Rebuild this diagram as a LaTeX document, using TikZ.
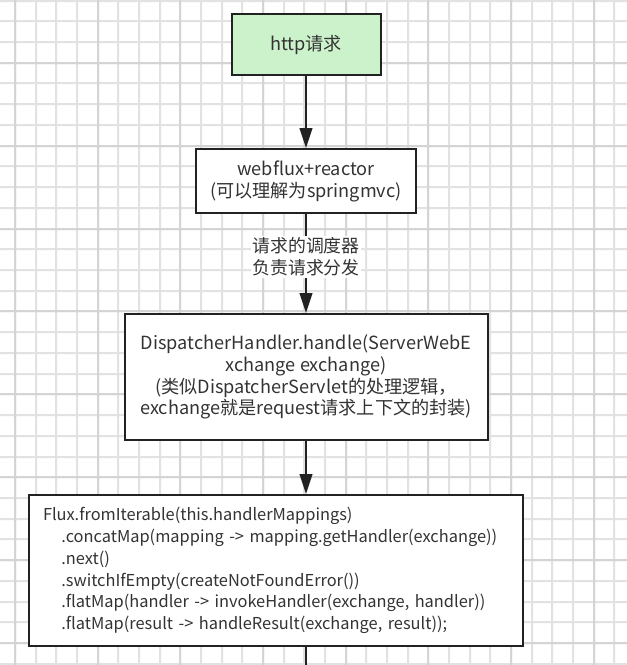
\documentclass[tikz,border=0pt]{standalone}
\usepackage{fontspec}
\setmainfont{Noto Sans CJK SC}
\usetikzlibrary{arrows.meta}
\definecolor{boxgreen}{RGB}{204,242,204}
\definecolor{lineclr}{RGB}{34,34,34}
\definecolor{txtclr}{RGB}{51,51,51}
\definecolor{gridminor}{RGB}{226,226,226}
\definecolor{gridmajor}{RGB}{212,212,212}
\def\u{0.75pt}
\newcommand{\ind}{\hspace*{13.8pt}}
\tikzset{
  box/.style={draw=lineclr, line width=1.5pt, fill=white, inner sep=0pt,
    text=txtclr, align=center, font=\fontsize{13.6}{16.4}\selectfont},
  codebox/.style={box, align=left, inner xsep=10.5pt, font=\fontsize{12.3}{16.3}\selectfont},
  conn/.style={draw=lineclr, line width=1.7pt, -{Triangle[length=15pt,width=9.5pt]}},
  plainconn/.style={draw=lineclr, line width=1.7pt},
  lbl/.style={fill=white, text=txtclr, align=center, inner sep=1pt, font=\fontsize{13.4}{17}\selectfont},
}
\begin{document}
\begin{tikzpicture}[x=0.75pt,y=-0.75pt]
\useasboundingbox (0,0) rectangle (627,665);
\fill[white] (0,0) rectangle (627,665);
% grid: minor lines as thin filled strips
\fill[gridminor]
  \foreach \i in {1,...,31} { ({round(-5.67+20.67*\i)-1},0) rectangle ({round(-5.67+20.67*\i)+1},665) }
  \foreach \i in {0,...,32} { (0,{round(0.5+20.73*\i)-1}) rectangle (627,{round(0.5+20.73*\i)+1}) };
\fill[gridmajor]
  \foreach \i in {0,...,7} { ({round(15+82.67*\i)-1},0) rectangle ({round(15+82.67*\i)+1},665) }
  \foreach \i in {0,...,7} { (0,{round(62.7+82.92*\i)-1}) rectangle (627,{round(62.7+82.92*\i)+1}) };
% boxes
\node[box, fill=boxgreen, minimum width=149*\u, minimum height=61*\u] (b1) at (306,44.5) {http请求};
\node[box, minimum width=220*\u, minimum height=64*\u] (b2) at (306,181) {webflux+reactor\\(可以理解为springmvc)};
\node[box, minimum width=363*\u, minimum height=126*\u] (b3) at (306,377) {DispatcherHandler.handle(ServerWebE\\xchange exchange)\\(类似DispatcherServlet的处理逻辑，\\exchange就是request请求上下文的封装)};
\node[codebox, text width=466*\u, minimum height=151*\u] (b4) at (276,570.5) {Flux.fromIterable(this.handlerMappings)\\
\ind.concatMap(mapping -> mapping.getHandler(exchange))\\
\ind.next()\\
\ind.switchIfEmpty(createNotFoundError())\\
\ind.flatMap(handler -> invokeHandler(exchange, handler))\\
\ind.flatMap(result -> handleResult(exchange, result));};
\coordinate (end) at (306,665);
% connectors
\draw[conn] (b1.south) -- (b2.north);
\draw[conn] (b2.south) -- node[lbl, pos=0.43] (l1) {请求的调度器\\负责请求分发} (b3.north);
\draw[conn] (b3.south) -- (b3.south |- b4.north);
\draw[plainconn] (b4.south -| end) -- (end);
\end{tikzpicture}
\end{document}
